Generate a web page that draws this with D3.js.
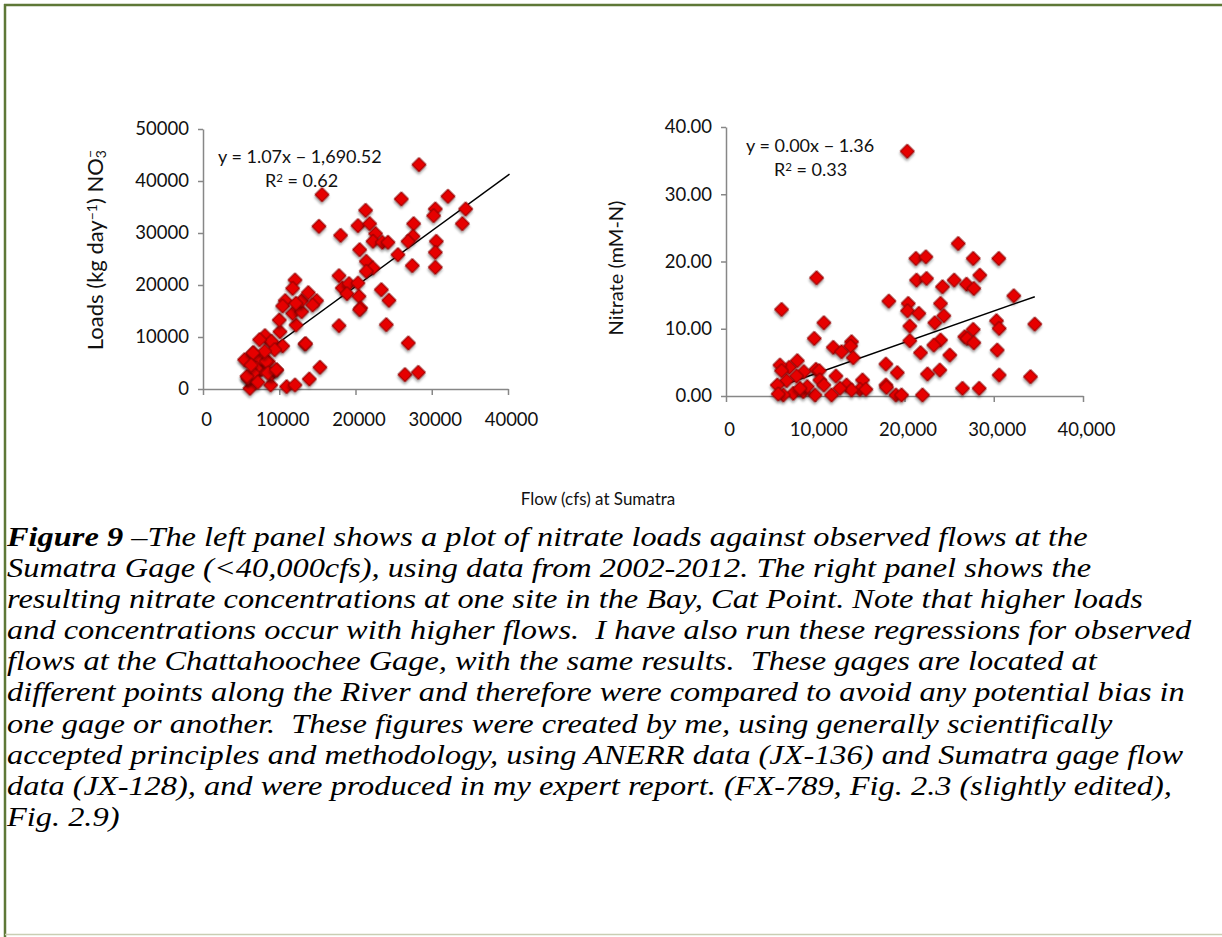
<!DOCTYPE html>
<html>
<head>
<meta charset="utf-8">
<script src="https://cdn.jsdelivr.net/npm/d3@7"></script>
<style>
  body { margin: 0; background: #fff; }
  svg { display: block; }
</style>
</head>
<body>
<svg id="fig" width="1222" height="937"></svg>
<script>
// Left panel: nitrate loads vs. flow at Sumatra
var leftFlow = [28330,15610,15210,18050,26010,32130,30470,30250,34450,34010,27630,27540,26890,30600,30470,30470,25570,27450,26930,26490,28240,
  21330,20330,21860,22640,22300,23520,24260,20550,21420,22300,21420,17840,18270,19150,20330,18890,20460,20680,20550,17840,23390,24390,24040,
  6160,8880,10970,12070,13950,15340,13380,12200,5950,6820,7690,9010,9670,8570,5730,6610,8130,9010,10100,10450,10010,11760,12940,10780,10450,
  12070,11760,12940,13810,14900,14380,12200,5460,7430,6990,5900,6560,8310,8520,9620,8960,9400,7430,8090,5770,6560,13460,6300,7200];
var leftLoad = [43140,37370,31280,29550,36540,37050,34620,33330,34620,31790,31790,29360,28400,28400,26280,23400,25830,23720,8850,2760,3200,
  34360,31410,31790,29870,28400,28210,28210,26790,24550,23270,22630,21790,19420,20260,20380,18330,17820,15580,15260,12180,19100,17050,12370,
  130,770,450,770,1920,4170,8650,12310,2050,2690,3780,2880,3650,5260,5580,6990,10260,8910,11030,8270,13270,14550,14870,16990,15960,
  20960,19360,16990,18530,16990,16150,16470,5640,5640,4040,2120,3080,5320,3080,3720,9170,7560,9490,7240,2440,6920,8720,4600,1300];

// Right panel: nitrate at Cat Point vs. flow at Sumatra
var rightFlow = [20310,10150,6230,10970,9890,26020,21280,22400,27700,30570,21350,22470,25570,28440,24260,26950,27770,32250,18250,20420,
  20340,21610,24040,24410,23400,20600,30310,30610,34600,27700,26760,27030,27770,24040,23290,20600,21800,25080,30390,30610,34120,23960,
  22580,17920,19190,26500,28370,22020,19040,19670,17920,17990,14070,13960,12020,12950,14260,7990,7090,6050,6230,10080,10450,8730,7910,
  12320,15300,6790,5750,10520,10970,13510,15010,15680,14070,12770,11830,9970,8660,7540,6420,5850,9110,8290];
var rightNitrate = [36.39,17.57,12.87,10.89,8.56,22.67,20.45,20.69,20.45,20.45,17.23,17.48,17.23,17.97,16.24,16.63,15.99,14.90,14.11,13.76,
  12.67,12.28,13.76,11.93,10.89,10.40,11.19,10.05,10.69,9.90,8.81,8.56,7.92,8.32,7.57,8.22,6.44,6.09,6.83,3.12,2.87,3.86,
  3.27,4.75,3.47,1.14,1.14,0.15,0.15,0.15,1.63,1.29,8.07,7.43,7.23,6.58,5.69,5.25,4.26,4.60,3.76,3.96,3.76,3.61,2.97,
  2.97,2.38,2.28,1.63,2.38,1.63,1.63,0.99,0.99,0.89,1.14,0.15,0.15,0.64,0.40,0.15,0.30,1.39,1.14];

// trend lines as printed by the spreadsheet: [slope, intercept], and flow range drawn
var leftTrend = [1.07, -1690.52], leftTrendRange = [5680, 40200];
var rightTrend = [0.000466, -1.36], rightTrendRange = [5860, 34600];

var leftXTicks = [0, 10000, 20000, 30000, 40000];
var leftYTicks = [0, 10000, 20000, 30000, 40000, 50000];
var rightXTicks = [0, 10000, 20000, 30000, 40000];
var rightYTicks = [0, 10, 20, 30, 40];

var captionLines = [
  "\u2013The left panel shows a plot of nitrate loads against observed flows at the",
  "Sumatra Gage (<40,000cfs), using data from 2002-2012. The right panel shows the",
  "resulting nitrate concentrations at one site in the Bay, Cat Point. Note that higher loads",
  "and concentrations occur with higher flows.  I have also run these regressions for observed",
  "flows at the Chattahoochee Gage, with the same results.  These gages are located at",
  "different points along the River and therefore were compared to avoid any potential bias in",
  "one gage or another.  These figures were created by me, using generally scientifically",
  "accepted principles and methodology, using ANERR data (JX-136) and Sumatra gage flow",
  "data (JX-128), and were produced in my expert report. (FX-789, Fig. 2.3 (slightly edited),",
  "Fig. 2.9)"
];

var svg = d3.select('#fig');
var sans = 'Lato, "Open Sans", sans-serif';

// drop shadow for the markers
var defs = svg.append('defs');
var f = defs.append('filter').attr('id', 'shadow').attr('x', '-50%').attr('y', '-50%').attr('width', '200%').attr('height', '200%');
f.append('feDropShadow').attr('dx', 1.5).attr('dy', 2).attr('stdDeviation', 1.2)
  .attr('flood-color', '#000').attr('flood-opacity', 0.35);

// page frame
svg.append('line').attr('x1', 4).attr('x2', 1222).attr('y1', 5).attr('y2', 5)
  .attr('stroke', '#5e7837').attr('stroke-width', 2.5);
svg.append('line').attr('x1', 5).attr('x2', 5).attr('y1', 4).attr('y2', 937)
  .attr('stroke', '#5e7837').attr('stroke-width', 2.5);
svg.append('line').attr('x1', 5).attr('x2', 1222).attr('y1', 934.5).attr('y2', 934.5)
  .attr('stroke', '#c9ceb3').attr('stroke-width', 1.5);

var diamond = d3.symbol().type(d3.symbolSquare).size(100);

function panel(opt) {
  var x = d3.scaleLinear().domain([0, 40000]).range(opt.xRange);
  var y = d3.scaleLinear().domain(opt.yDomain).range(opt.yRange);
  var g = svg.append('g');

  var xa = g.append('g').attr('transform', 'translate(0,' + opt.yRange[0] + ')')
    .call(d3.axisBottom(x).tickValues(opt.xTicks).tickFormat(opt.xFmt)
      .tickSize(6).tickSizeOuter(0).tickPadding(opt.xPad));
  var ya = g.append('g').attr('transform', 'translate(' + opt.xRange[0] + ',0)')
    .call(d3.axisLeft(y).tickValues(opt.yTicks).tickFormat(opt.yFmt)
      .tickSize(5).tickSizeOuter(0).tickPadding(9));
  [xa, ya].forEach(function (a) {
    a.selectAll('path, line').attr('stroke', '#878787').attr('stroke-width', 1.5);
    a.selectAll('text').attr('font-family', sans).attr('font-size', 18.5).attr('fill', '#111');
  });
  xa.selectAll('text').attr('dx', 3);

  // trend line
  var t = opt.trend;
  g.append('path')
    .datum(opt.trendRange)
    .attr('d', d3.line().x(function (d) { return x(d); }).y(function (d) { return y(t[0] * d + t[1]); }))
    .attr('stroke', '#000').attr('stroke-width', 1.4).attr('fill', 'none');

  g.append('g').selectAll('path')
    .data(d3.range(opt.xs.length))
    .join('path')
    .attr('transform', function (i) { return 'translate(' + x(opt.xs[i]) + ',' + y(opt.ys[i]) + ') rotate(45)'; })
    .attr('d', diamond)
    .attr('fill', '#e60000').attr('stroke', '#8a0000').attr('stroke-width', 1)
    .attr('filter', 'url(#shadow)');

  // equation labels
  g.append('text').attr('x', opt.eqX).attr('y', opt.eqY).text(opt.eq)
    .attr('font-family', sans).attr('font-size', 18).attr('fill', '#111');
  g.append('text').attr('x', opt.eqX + opt.r2dx).attr('y', opt.eqY + 24)
    .attr('font-family', sans).attr('font-size', 18).attr('fill', '#111')
    .call(function (s) {
      s.append('tspan').text('R');
      s.append('tspan').text('2').attr('font-size', 11.5).attr('baseline-shift', '40%');
      s.append('tspan').text(' = ' + opt.r2);
    });
  return g;
}

panel({
  xs: leftFlow, ys: leftLoad,
  xRange: [203, 508], yDomain: [0, 50000], yRange: [389, 129],
  xTicks: leftXTicks, yTicks: leftYTicks,
  xFmt: d3.format('d'), yFmt: d3.format('d'), xPad: 18,
  trend: leftTrend, trendRange: leftTrendRange,
  eq: 'y = 1.07x \u2212 1,690.52', eqX: 218, eqY: 163, r2dx: 47, r2: '0.62'
});

panel({
  xs: rightFlow, ys: rightNitrate,
  xRange: [726, 1083], yDomain: [0, 40], yRange: [396, 127],
  xTicks: rightXTicks, yTicks: rightYTicks,
  xFmt: d3.format(','), yFmt: d3.format('.2f'), xPad: 21,
  trend: rightTrend, trendRange: rightTrendRange,
  eq: 'y = 0.00x \u2212 1.36', eqX: 746, eqY: 152, r2dx: 28, r2: '0.33'
});

// axis titles
var lt = svg.append('text')
  .attr('transform', 'translate(103,250) rotate(-90)')
  .attr('text-anchor', 'middle')
  .attr('font-family', sans).attr('font-size', 22).attr('fill', '#111');
lt.append('tspan').text('Loads (kg day');
lt.append('tspan').text('\u22121').attr('font-size', 14).attr('baseline-shift', '45%');
lt.append('tspan').text(') NO');
lt.append('tspan').text('3').attr('font-size', 14).attr('baseline-shift', '-20%');
lt.append('tspan').text('\u2212').attr('font-size', 14).attr('baseline-shift', '55%').attr('dx', -8);

svg.append('text')
  .attr('transform', 'translate(623,268) rotate(-90)')
  .attr('text-anchor', 'middle')
  .attr('font-family', sans).attr('font-size', 20).attr('fill', '#111')
  .text('Nitrate (mM-N)');

svg.append('text')
  .attr('x', 598).attr('y', 505).attr('text-anchor', 'middle')
  .attr('font-family', sans).attr('font-size', 17).attr('fill', '#111')
  .text('Flow (cfs) at Sumatra');

// caption (the document renders it a little wider than plain Times)
var cap = svg.append('g').attr('transform', 'translate(7,0) scale(1.2,1)')
  .append('text')
  .attr('font-family', '"Liberation Serif", "Times New Roman", serif')
  .attr('font-size', 27).attr('font-style', 'italic').attr('fill', '#000');
cap.selectAll('tspan')
  .data(captionLines)
  .join('tspan')
  .attr('x', 0)
  .attr('y', function (d, i) { return 546 + i * 31.1; })
  .attr('xml:space', 'preserve')
  .each(function (d, i) {
    var s = d3.select(this);
    if (i === 0) {
      s.append('tspan').text('Figure 9 ').attr('font-weight', 'bold');
      s.append('tspan').text(d);
    } else {
      s.text(d);
    }
  });
</script>
</body>
</html>
